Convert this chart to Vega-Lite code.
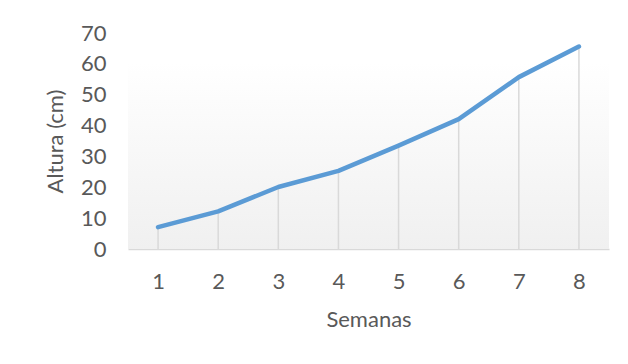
{
  "$schema": "https://vega.github.io/schema/vega-lite/v6.json",
  "width": 481,
  "height": 216,
  "autosize": {"type": "none"},
  "padding": {"left": 128, "top": 33, "right": 19, "bottom": 115},
  "background": "#ffffff",
  "config": {
    "view": {"stroke": null},
    "font": "Lato",
    "axis": {
      "labelFont": "Lato",
      "titleFont": "Lato",
      "labelColor": "#595959",
      "titleColor": "#595959",
      "titleFontWeight": "normal",
      "labelFontSize": 22,
      "titleFontSize": 22,
      "ticks": false,
      "grid": false,
      "labelOverlap": false,
      "labelFlush": false
    }
  },
  "data": {
    "values": [
      {"semana": 1, "altura": 7.1},
      {"semana": 2, "altura": 12.2},
      {"semana": 3, "altura": 20.1},
      {"semana": 4, "altura": 25.3},
      {"semana": 5, "altura": 33.5},
      {"semana": 6, "altura": 42.1},
      {"semana": 7, "altura": 55.7},
      {"semana": 8, "altura": 65.6}
    ]
  },
  "layer": [
    {
      "data": {"values": [{"lo": 0, "hi": 60.5}]},
      "mark": {
        "type": "rect",
        "fill": {
          "gradient": "linear",
          "x1": 0, "y1": 0, "x2": 0, "y2": 1,
          "stops": [
            {"offset": 0, "color": "#ffffff"},
            {"offset": 1, "color": "#f0f0f0"}
          ]
        }
      },
      "encoding": {
        "y": {
          "field": "lo",
          "type": "quantitative",
          "scale": {"domain": [0, 70], "nice": false},
          "axis": {
            "title": "Altura (cm)",
            "values": [0, 10, 20, 30, 40, 50, 60, 70],
            "domain": false,
            "labelPadding": 22,
            "titlePadding": 13
          }
        },
        "y2": {"field": "hi"}
      }
    },
    {
      "mark": {"type": "rule", "color": "#d9d9d9", "strokeWidth": 1.5},
      "encoding": {
        "x": {
          "field": "semana",
          "type": "ordinal",
          "scale": {"type": "point", "padding": 0.5},
          "axis": {
            "title": "Semanas",
            "labelAngle": 0,
            "domainColor": "#d9d9d9",
            "domainWidth": 1.5,
            "labelPadding": 22,
            "titlePadding": 17
          }
        },
        "y": {
          "field": "altura",
          "type": "quantitative",
          "axis": {
            "title": "Altura (cm)",
            "values": [0, 10, 20, 30, 40, 50, 60, 70],
            "domain": false,
            "labelPadding": 22,
            "titlePadding": 13
          }
        },
        "y2": {"datum": 0}
      }
    },
    {
      "mark": {"type": "line", "color": "#5b9bd5", "strokeWidth": 4.5, "strokeCap": "round", "strokeJoin": "round"},
      "encoding": {
        "x": {
          "field": "semana",
          "type": "ordinal",
          "scale": {"type": "point", "padding": 0.5},
          "axis": {
            "title": "Semanas",
            "labelAngle": 0,
            "domainColor": "#d9d9d9",
            "domainWidth": 1.5,
            "labelPadding": 22,
            "titlePadding": 17
          }
        },
        "y": {
          "field": "altura",
          "type": "quantitative",
          "scale": {"domain": [0, 70], "nice": false},
          "axis": {
            "title": "Altura (cm)",
            "values": [0, 10, 20, 30, 40, 50, 60, 70],
            "domain": false,
            "labelPadding": 22,
            "titlePadding": 13
          }
        }
      }
    }
  ]
}
